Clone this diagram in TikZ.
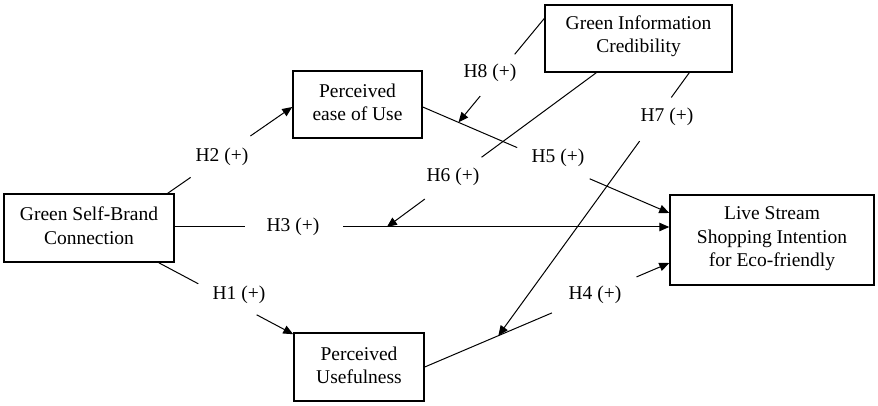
\documentclass[tikz,border=0pt]{standalone}
\usepackage{fontspec}
\setmainfont{Liberation Serif}
\usetikzlibrary{arrows.meta,calc}
\begin{document}
\begin{tikzpicture}[x=1pt,y=-1pt,
  txt/.style={font=\fontsize{19.5}{23.5}\selectfont},
  box/.style={txt,draw,line width=1.5pt,align=center,inner sep=0pt},
  lab/.style={txt,inner sep=0pt},
  con/.style={line width=1pt},
  arr/.style={con,-{Triangle[length=10pt,width=8.5pt]}}]
\useasboundingbox (0,0) rectangle (878,406);
% boxes
\node[box,minimum width=170pt,minimum height=68pt,text depth=5pt] (gsbc) at (89,228) {Green Self-Brand\\Connection};
\node[box,minimum width=129pt,minimum height=67pt,text depth=5pt] (peou) at (357.5,104.5) {Perceived\\ease of Use};
\node[box,minimum width=187pt,minimum height=67pt,text depth=9pt] (gic) at (638.5,38.5) {Green Information\\Credibility};
\node[box,minimum width=204pt,minimum height=90pt,text depth=6pt] (lssi) at (772,240) {Live Stream\\Shopping Intention\\for Eco-friendly};
\node[box,minimum width=130pt,minimum height=68pt,text depth=4pt] (pu) at (359,367) {Perceived\\Usefulness};
% labels
\node[lab] (l1) at (239,295) {H1 (+)};
\node[lab] (l2) at (222,157) {H2 (+)};
\node[lab] (l3) at (293,227) {H3 (+)};
\node[lab] (l4) at (595,295) {H4 (+)};
\node[lab] (l5) at (558,158) {H5 (+)};
\node[lab] (l6) at (453,177) {H6 (+)};
\node[lab] (l7) at (667,117) {H7 (+)};
\node[lab] (l8) at (490,73) {H8 (+)};
% end points
\coordinate (h2a) at ($(gsbc.north east)+(-7,0)$);
\coordinate (h2b) at ($(peou.west)+(0,2.5)$);
\coordinate (h3a) at ($(gsbc.east)+(0,-1)$);
\coordinate (h3b) at ($(lssi.west)+(0,-13)$);
\coordinate (h1a) at ($(gsbc.south east)+(-16,0)$);
\coordinate (h1b) at ($(pu.north west)+(0,2)$);
\coordinate (h4a) at (pu.east);
\coordinate (h4b) at ($(lssi.west)+(0,23)$);
\coordinate (h5a) at ($(peou.east)+(0,2.5)$);
\coordinate (h5b) at ($(lssi.west)+(0,-27)$);
\coordinate (h8a) at ($(gic.west)+(0,-20)$);
\coordinate (h8b) at ($(h5a)!0.145!(h5b)$);
\coordinate (h6a) at ($(gic.south west)+(52,0)$);
\coordinate (h6b) at ($(h3a)!0.429!(h3b)$);
\coordinate (h7a) at ($(gic.south west)+(145,0)$);
\coordinate (h7b) at ($(h4a)!0.301!(h4b)$);
% gap ends
\coordinate (g1a) at ($(h1a)!0.294!(h1b)$);
\coordinate (g1b) at ($(h1a)!0.728!(h1b)$);
\coordinate (g2a) at ($(h2a)!0.184!(h2b)$);
\coordinate (g2b) at ($(h2a)!0.664!(h2b)$);
\coordinate (g3a) at ($(h3a)!0.143!(h3b)$);
\coordinate (g3b) at ($(h3a)!0.341!(h3b)$);
\coordinate (g4a) at ($(h4a)!0.520!(h4b)$);
\coordinate (g4b) at ($(h4a)!0.866!(h4b)$);
\coordinate (g5a) at ($(h5a)!0.383!(h5b)$);
\coordinate (g5b) at ($(h5a)!0.677!(h5b)$);
\coordinate (g6a) at ($(h6a)!0.548!(h6b)$);
\coordinate (g6b) at ($(h6a)!0.819!(h6b)$);
\coordinate (g7a) at ($(h7a)!0.094!(h7b)$);
\coordinate (g7b) at ($(h7a)!0.26!(h7b)$);
\coordinate (g8a) at ($(h8a)!0.345!(h8b)$);
\coordinate (g8b) at ($(h8a)!0.747!(h8b)$);
% connectors
\draw[con] (h1a) -- (g1a);  \draw[arr] (g1b) -- (h1b);
\draw[con] (h2a) -- (g2a);  \draw[arr] (g2b) -- (h2b);
\draw[con] (h3a) -- (g3a);  \draw[arr] (g3b) -- (h3b);
\draw[con] (h4a) -- (g4a);  \draw[arr] (g4b) -- (h4b);
\draw[con] (h5a) -- (g5a);  \draw[arr] (g5b) -- (h5b);
\draw[con] (h6a) -- (g6a);  \draw[arr] (g6b) -- (h6b);
\draw[con] (h7a) -- (g7a);  \draw[arr] (g7b) -- (h7b);
\draw[con] (h8a) -- (g8a);  \draw[arr] (g8b) -- (h8b);
\end{tikzpicture}
\end{document}
